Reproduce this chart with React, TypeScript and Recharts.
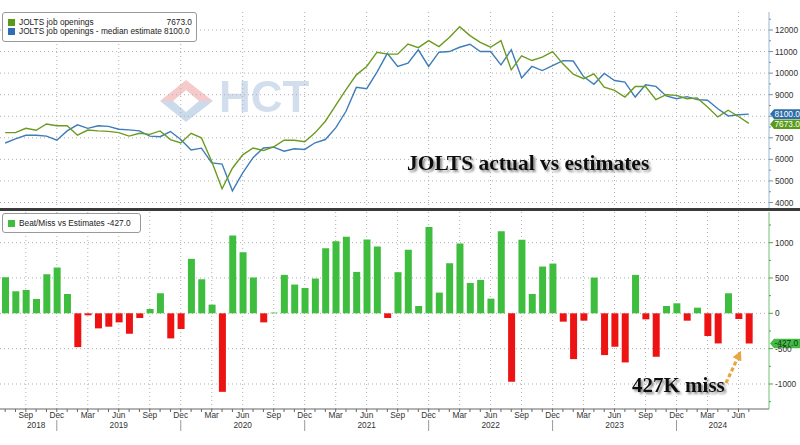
import React from "react";
import {LineChart, Line, BarChart, Bar, Cell, XAxis, YAxis, CartesianGrid, ReferenceDot} from "recharts";

// months Jul 2018 .. Jul 2024
const months = [
    "2018-07", "2018-08", "2018-09", "2018-10", "2018-11", "2018-12",
    "2019-01", "2019-02", "2019-03", "2019-04", "2019-05", "2019-06", "2019-07", "2019-08", "2019-09", "2019-10", "2019-11", "2019-12",
    "2020-01", "2020-02", "2020-03", "2020-04", "2020-05", "2020-06", "2020-07", "2020-08", "2020-09", "2020-10", "2020-11", "2020-12",
    "2021-01", "2021-02", "2021-03", "2021-04", "2021-05", "2021-06", "2021-07", "2021-08", "2021-09", "2021-10", "2021-11", "2021-12",
    "2022-01", "2022-02", "2022-03", "2022-04", "2022-05", "2022-06", "2022-07", "2022-08", "2022-09", "2022-10", "2022-11", "2022-12",
    "2023-01", "2023-02", "2023-03", "2023-04", "2023-05", "2023-06", "2023-07", "2023-08", "2023-09", "2023-10", "2023-11", "2023-12",
    "2024-01", "2024-02", "2024-03", "2024-04", "2024-05", "2024-06", "2024-07",
];

// JOLTS job openings (actual)
const actual = [
    7240, 7240, 7440, 7350, 7640, 7560,
    7560, 7120, 7360, 7320, 7300, 7240, 7080, 7210, 7160, 7320, 6920, 6760,
    7210, 7000, 5900, 4640, 5590, 6210, 6530, 6410, 6585, 6890, 6890, 6815,
    7230, 7770, 8510, 9230, 9920, 10310, 10970, 10880, 10880, 11350, 11180, 11510,
    11230, 11650, 12150, 11740, 11430, 11200, 11510, 10150, 10800, 10585, 10740, 11000,
    10430, 9950, 9740, 9970, 9350, 9200, 8890, 9385, 9380, 8770, 9000, 8970,
    8810, 8850, 8430, 7970, 8280, 7990, 7673,
];

// median estimate
const estimate = [
    6760, 6950, 7120, 7120, 7080, 6890,
    7320, 7600, 7440, 7560, 7530, 7400, 7370, 7320, 7080, 7050, 7290, 6920,
    6440, 6520, 5840, 5780, 4540, 5370, 6080, 6530, 6570, 6380, 6490, 6460,
    6770, 6920, 7460, 8230, 9340, 9280, 10050, 10920, 10310, 10460, 11080, 10310,
    10970, 11000, 11200, 11340, 11000, 11000, 10380, 11080, 9780, 10310, 10120, 10350,
    10580, 10560, 9840, 9480, 9985, 9660, 9585, 8890, 9460, 9385, 8940, 8815,
    8910, 8770, 8740, 8350, 8015, 8070, 8100,
];

// beat / miss vs estimates
const beatMiss = [
    511, 312, 331, 203, 553, 648,
    274, -478, -28, -213, -189, -128, -288, -66, 61, 284, -355, -222,
    771, 482, 123, -1111, 1102, 865, 506, -128, 10, 544, 407, 359,
    492, 922, 1021, 1083, 586, 1045, 946, -66, 582, 898, 104, 1220,
    293, 709, 988, 430, 473, 208, 1163, -969, 1040, 274, 662, 704,
    -118, -648, -104, 506, -591, -473, -695, 544, -85, -615, 104, 142,
    -104, 80, -321, -426, 284, -80, -427,
];

const topTicks = [4000, 4500, 5000, 5500, 6000, 6500, 7000, 7500, 8000, 8500, 9000, 9500, 10000, 10500, 11000, 11500, 12000, 12500];
const topGrid = [4000, 5000, 6000, 7000, 8000, 9000, 10000, 11000, 12000];
const bottomTicks = [-1250, -1000, -750, -500, -250, 0, 250, 500, 750, 1000, 1250];
const bottomGrid = [-1000, -500, 0, 500, 1000];
// labels hidden behind the last-value tags
const coveredTop = [8000];
const coveredBottom: number[] = [];

const quarterName: Record<string, string> = {"03": "Mar", "06": "Jun", "09": "Sep", "12": "Dec"};
const yearAt: Record<string, string> = {
    "2018-10": "2018", "2019-06": "2019", "2020-06": "2020", "2021-06": "2021",
    "2022-06": "2022", "2023-06": "2023", "2024-04": "2024",
};
const quarterMonths = months.filter(m => quarterName[m.slice(5)]);

const topData = months.map((d, i) => ({d, actual: actual[i], est: estimate[i]}));
const bottomData = months.map((d, i) => ({d, beat: beatMiss[i]}));
const last = months.length - 1;

const FONT = "'Liberation Sans', Arial, sans-serif";
const SERIF = "'Liberation Serif', 'Times New Roman', serif";
const GREEN_LINE = "#6b9b1f";
const BLUE_LINE = "#3d7db8";
const BAR_GREEN = "#3fbd3f";
const BAR_RED = "#ee1313";
const GRID = "#b0b0b0";
const TAG_X = 770;

const MonthTick = (p: any) => {
    const {x, y, payload} = p;
    const v: string = payload.value;
    const mm = v.slice(5);
    const q = quarterName[mm];
    const yr = yearAt[v];
    return (
        <g>
            <line x1={x} x2={x} y1={y} y2={y + 3} stroke="#666"/>
            {q && <text x={x} y={y + 9} textAnchor="middle" fontSize={8.3} fill="#333" fontFamily={FONT}>{q}</text>}
            {mm === "12" && <line x1={x} x2={x} y1={y + 11} y2={y + 22} stroke="#999"/>}
            {yr && <text x={x} y={y + 19} textAnchor="middle" fontSize={8.3} fill="#333" fontFamily={FONT}>{yr}</text>}
        </g>
    );
};

const makeYTick = (step: number, color: string, covered: number[]) => (p: any) => {
    const {x, y, payload} = p;
    const major = payload.value % step === 0;
    const showLabel = major && !covered.includes(payload.value);
    return (
        <g>
            <line x1={x} x2={x + (major ? 4 : 2)} y1={y} y2={y} stroke={color}/>
            {showLabel && <text x={x + 6} y={y + 3} fontSize={8.3} fill="#333" fontFamily={FONT}>{payload.value}</text>}
        </g>
    );
};

const Tag = ({y, fill, color, text}: any) => (
    <g>
        <polygon points={`${TAG_X},${y} ${TAG_X + 4},${y - 4.8} 800,${y - 4.8} 800,${y + 4.8} ${TAG_X + 4},${y + 4.8}`} fill={fill}/>
        <text x={TAG_X + 4.5} y={y + 3} fontSize={8.3} fill={color} fontFamily={FONT}>{text}</text>
    </g>
);

const Square = ({color}: {color: string}) => (
    <span style={{display: "inline-block", width: 7, height: 7, background: color, marginRight: 4}}/>
);

const boxStyle: React.CSSProperties = {
    position: "absolute", background: "#fff", border: "1px solid #999", borderRadius: 3,
    fontFamily: FONT, fontSize: 8.3, color: "#222", lineHeight: "9px", boxSizing: "border-box",
};

export default function App() {
    return (
        <div style={{position: "absolute", left: 0, top: 0, width: 800, height: 445, background: "#fff", overflow: "hidden"}}>
            <svg width={800} height={445} style={{position: "absolute", left: 0, top: 0}}>
                <g opacity={0.75}>
                    <polygon points="160,101 186,80 213,101" fill="#f2b9b9"/>
                    <polygon points="160,101 213,101 186,122" fill="#bccfe6"/>
                    <polygon points="173,101 186,90 199,101 186,112" fill="#fff"/>
                    <text x={219} y={112} fontFamily={FONT} fontWeight="bold" fontSize={44} fill="#c3d4e9">HCT</text>
                </g>
            </svg>

            <div style={{position: "absolute", left: 0, top: 0}}>
                <LineChart width={800} height={210} data={topData} margin={{top: 12, right: 0, bottom: 2, left: 0}}>
                    <CartesianGrid horizontalValues={topGrid} verticalValues={quarterMonths} stroke={GRID} strokeDasharray="1 3"/>
                    <XAxis dataKey="d" hide scale="band" padding={{left: 0, right: 15}}/>
                    <YAxis orientation="right" width={31} domain={[3745, 12835]} ticks={topTicks} interval={0}
                           allowDataOverflow axisLine={{stroke: "#9db8d0"}} tickLine={false} tickSize={0} tickMargin={0}
                           tick={makeYTick(1000, "#6f93b3", coveredTop)}/>
                    <Line dataKey="est" stroke={BLUE_LINE} strokeWidth={1.4} dot={false} isAnimationActive={false}/>
                    <Line dataKey="actual" stroke={GREEN_LINE} strokeWidth={1.4} dot={false} isAnimationActive={false}/>
                    <ReferenceDot x={months[last]} y={estimate[last]} r={0}
                                  shape={(p: any) => <Tag y={p.cy} fill="#2f6ea8" color="#fff" text="8100.0"/>}/>
                    <ReferenceDot x={months[last]} y={actual[last]} r={0}
                                  shape={(p: any) => <Tag y={p.cy + 1} fill="#5a9a1c" color="#fff" text="7673.0"/>}/>
                </LineChart>
            </div>

            <div style={{...boxStyle, left: 2, top: 12, width: 195, height: 30, padding: "5px 4px 0 5px"}}>
                <div style={{display: "flex", alignItems: "center"}}>
                    <Square color="#5a9a1a"/><span>JOLTS job openings</span><span style={{marginLeft: "auto"}}>7673.0</span>
                </div>
                <div style={{display: "flex", alignItems: "center"}}>
                    <Square color="#2f6eb0"/><span>JOLTS job openings - median estimate 8100.0</span>
                </div>
            </div>

            <div style={{position: "absolute", left: 0, top: 207.5, width: 800, height: 3, background: "#3a3a3a"}}/>

            <div style={{position: "absolute", left: 0, top: 210}}>
                <BarChart width={800} height={235} data={bottomData} margin={{top: 2, right: 0, bottom: 0, left: 0}}>
                    <CartesianGrid horizontalValues={bottomGrid} verticalValues={quarterMonths} stroke={GRID} strokeDasharray="1 3"/>
                    <XAxis dataKey="d" height={36} interval={0} padding={{left: 0, right: 15}}
                           axisLine={{stroke: "#666"}} tickLine={false} tickSize={0} tickMargin={0}
                           tick={(p: any) => <MonthTick {...p}/>}/>
                    <YAxis orientation="right" width={31} domain={[-1354, 1434]} ticks={bottomTicks} interval={0}
                           allowDataOverflow axisLine={{stroke: "#72c172"}} tickLine={false} tickSize={0} tickMargin={0}
                           tick={makeYTick(500, "#4aa34a", coveredBottom)}/>
                    <Bar dataKey="beat" barSize={7} isAnimationActive={false}>
                        {bottomData.map(e => <Cell key={e.d} fill={e.beat >= 0 ? BAR_GREEN : BAR_RED}/>)}
                    </Bar>
                    <ReferenceDot x={months[last]} y={beatMiss[last]} r={0}
                                  shape={(p: any) => <Tag y={p.cy} fill="#45bb45" color="#0d3a0d" text="-427.0"/>}/>
                </BarChart>
            </div>

            <div style={{...boxStyle, left: 2, top: 213, width: 139, height: 20, padding: "5px 4px 0 5px"}}>
                <div style={{display: "flex", alignItems: "center"}}>
                    <Square color={BAR_GREEN}/><span>Beat/Miss vs Estimates -427.0</span>
                </div>
            </div>

            <svg width={800} height={445} style={{position: "absolute", left: 0, top: 0, pointerEvents: "none"}}>
                <defs>
                    <filter id="shadow" x="-5%" y="-30%" width="115%" height="170%">
                        <feDropShadow dx="2" dy="2" stdDeviation="1.3" floodColor="#555" floodOpacity="0.7"/>
                    </filter>
                    <marker id="head" viewBox="0 0 10 10" refX="5" refY="5" markerWidth="3" markerHeight="3" orient="auto">
                        <path d="M0,0 L10,5 L0,10 z" fill="#e8a63c"/>
                    </marker>
                </defs>
                <text x={407} y={170} fontFamily={SERIF} fontWeight="bold" fontSize={21.5} fill="#111" filter="url(#shadow)">
                    JOLTS actual vs estimates
                </text>
                <text x={632} y={392} fontFamily={SERIF} fontWeight="bold" fontSize={21} fill="#111" filter="url(#shadow)">
                    427K miss
                </text>
                <line x1={726} y1={383} x2={739} y2={355} stroke="#e8a63c" strokeWidth={3.2} strokeDasharray="4 2.5"
                      markerEnd="url(#head)"/>
            </svg>
        </div>
    );
}
